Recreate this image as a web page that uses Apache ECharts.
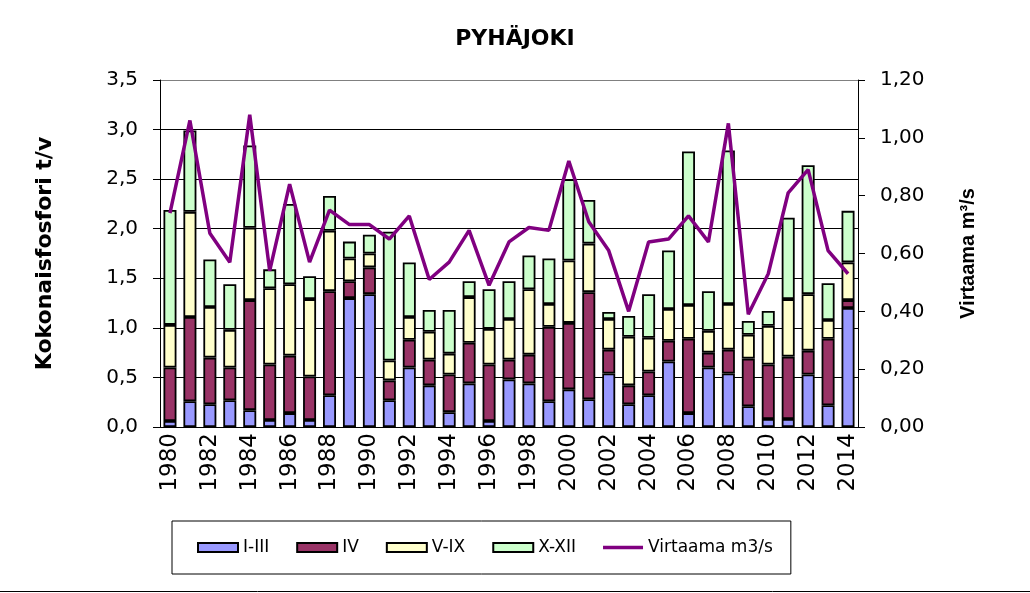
<!DOCTYPE html>
<html>
<head>
    <meta charset="utf-8">
    <title>PYHÄJOKI</title>
    <script src="https://cdn.jsdelivr.net/npm/echarts@6/dist/echarts.min.js"></script>
    <style>
        body { margin: 0; background: #fff; }
        #main { width: 1030px; height: 593px; }
    </style>
</head>
<body>
    <div id="main"></div>
    <script>
        // vuodet
        var years = ['1980', '1981', '1982', '1983', '1984', '1985', '1986', '1987', '1988', '1989',
            '1990', '1991', '1992', '1993', '1994', '1995', '1996', '1997', '1998', '1999',
            '2000', '2001', '2002', '2003', '2004', '2005', '2006', '2007', '2008', '2009',
            '2010', '2011', '2012', '2013', '2014'];

        // kokonaisfosfori t/v, jaksoittain
        var jakso1 = [0.06, 0.26, 0.23, 0.27, 0.17, 0.07, 0.14, 0.07, 0.32, 1.30, 1.34, 0.27, 0.60, 0.42, 0.15, 0.44, 0.06, 0.48,
            0.44, 0.26, 0.38, 0.28, 0.54, 0.23, 0.32, 0.66, 0.14, 0.60, 0.54, 0.21, 0.08, 0.08, 0.53, 0.22, 1.20];
        var jakso2 = [0.54, 0.85, 0.47, 0.33, 1.11, 0.56, 0.58, 0.44, 1.05, 0.17, 0.27, 0.20, 0.28, 0.26, 0.38, 0.41, 0.57, 0.20,
            0.29, 0.75, 0.67, 1.08, 0.24, 0.19, 0.24, 0.21, 0.75, 0.15, 0.24, 0.48, 0.55, 0.63, 0.24, 0.67, 0.08];
        var jakso3 = [0.43, 1.06, 0.51, 0.38, 0.73, 0.77, 0.72, 0.78, 0.61, 0.23, 0.14, 0.20, 0.23, 0.28, 0.21, 0.46, 0.36, 0.41,
            0.66, 0.23, 0.63, 0.49, 0.31, 0.49, 0.34, 0.32, 0.34, 0.22, 0.46, 0.24, 0.39, 0.58, 0.57, 0.19, 0.38];
        var jakso4 = [1.16, 0.82, 0.48, 0.46, 0.83, 0.19, 0.81, 0.23, 0.35, 0.17, 0.19, 1.30, 0.55, 0.22, 0.44, 0.16, 0.40, 0.38,
            0.34, 0.46, 0.82, 0.44, 0.07, 0.21, 0.44, 0.59, 1.55, 0.40, 1.55, 0.14, 0.15, 0.82, 1.30, 0.37, 0.52];

        // virtaama m3/s
        var virtaama = [0.74, 1.06, 0.67, 0.57, 1.08, 0.54, 0.84, 0.57, 0.75, 0.70, 0.70, 0.65, 0.73, 0.51, 0.57, 0.68, 0.49, 0.64,
            0.69, 0.68, 0.92, 0.71, 0.61, 0.40, 0.64, 0.65, 0.73, 0.64, 1.05, 0.39, 0.53, 0.81, 0.89, 0.61, 0.53];

        var chart = echarts.init(document.getElementById('main'));

        function bar(name, data, color) {
            return {
                name: name,
                type: 'bar',
                stack: 'p',
                barWidth: 13,
                data: data,
                itemStyle: { color: color, borderColor: '#000', borderWidth: 1.8 }
            };
        }

        var option = {
            animation: false,
            backgroundColor: '#fff',
            textStyle: { fontFamily: 'DejaVu Sans', color: '#000' },
            title: {
                text: 'PYHÄJOKI',
                left: 'center',
                top: 23,
                textStyle: { fontFamily: 'DejaVu Sans', fontSize: 22, fontWeight: 'bold', color: '#000' }
            },
            legend: {
                left: 172,
                top: 521,
                padding: [18, 18, 18, 25],
                itemGap: 27,
                itemWidth: 40,
                itemHeight: 9,
                borderColor: '#000',
                borderWidth: 1,
                textStyle: { fontFamily: 'DejaVu Sans', fontSize: 17, color: '#000' },
                data: [
                    { name: 'I-III', icon: 'rect' },
                    { name: 'IV', icon: 'rect' },
                    { name: 'V-IX', icon: 'rect' },
                    { name: 'X-XII', icon: 'rect' },
                    {
                        name: 'Virtaama m3/s',
                        icon: 'path://M0,0L40,0L40,3.5L0,3.5Z',
                        itemStyle: { color: '#800080', borderWidth: 0 }
                    }
                ]
            },
            grid: { left: 160, right: 172, top: 80, bottom: 166 },
            xAxis: {
                type: 'category',
                data: years,
                axisLine: { lineStyle: { color: '#000', width: 1 } },
                axisTick: { interval: 0, length: 7, lineStyle: { color: '#000' } },
                axisLabel: {
                    interval: 1,
                    rotate: 90,
                    margin: 6,
                    fontFamily: 'DejaVu Sans',
                    fontSize: 23,
                    color: '#000'
                }
            },
            yAxis: [{
                type: 'value',
                min: 0,
                max: 3.5,
                interval: 0.5,
                name: 'Kokonaisfosfori t/v',
                nameLocation: 'middle',
                nameGap: 104,
                nameTextStyle: { fontFamily: 'DejaVu Sans', fontSize: 22, fontWeight: 'bold', color: '#000' },
                axisLine: { show: true, lineStyle: { color: '#000' } },
                axisTick: { show: true, length: 7, lineStyle: { color: '#000' } },
                axisLabel: {
                    margin: 22,
                    fontSize: 20,
                    color: '#000',
                    formatter: function (v) { return v.toFixed(1).replace('.', ','); }
                },
                splitLine: {
                    lineStyle: {
                        color: ['#000', '#000', '#000', '#000', '#000', '#000', '#000', '#808080'],
                        width: 1
                    }
                }
            }, {
                type: 'value',
                min: 0,
                max: 1.2,
                interval: 0.2,
                position: 'right',
                name: 'Virtaama m³/s',
                nameLocation: 'middle',
                nameGap: 100,
                nameTextStyle: { fontFamily: 'Liberation Sans', fontSize: 20, fontWeight: 'bold', color: '#000' },
                axisLine: { show: true, lineStyle: { color: '#000' } },
                axisTick: { show: true, length: 7, lineStyle: { color: '#000' } },
                axisLabel: {
                    margin: 22,
                    fontSize: 20,
                    color: '#000',
                    formatter: function (v) { return v.toFixed(2).replace('.', ','); }
                },
                splitLine: { show: false }
            }],
            series: [
                bar('I-III', jakso1, '#9999FF'),
                bar('IV', jakso2, '#993366'),
                bar('V-IX', jakso3, '#FFFFCC'),
                bar('X-XII', jakso4, '#CCFFCC'),
                {
                    name: 'Virtaama m3/s',
                    type: 'line',
                    yAxisIndex: 1,
                    data: virtaama,
                    symbol: 'none',
                    lineStyle: { color: '#800080', width: 3.5 },
                    itemStyle: { color: '#800080' },
                    z: 5
                }
            ],
            graphic: [{
                type: 'line',
                shape: { x1: 0, y1: 591.5, x2: 1030, y2: 591.5 },
                style: { stroke: '#000', lineWidth: 1 }
            }]
        };

        chart.setOption(option);
    </script>
</body>
</html>
